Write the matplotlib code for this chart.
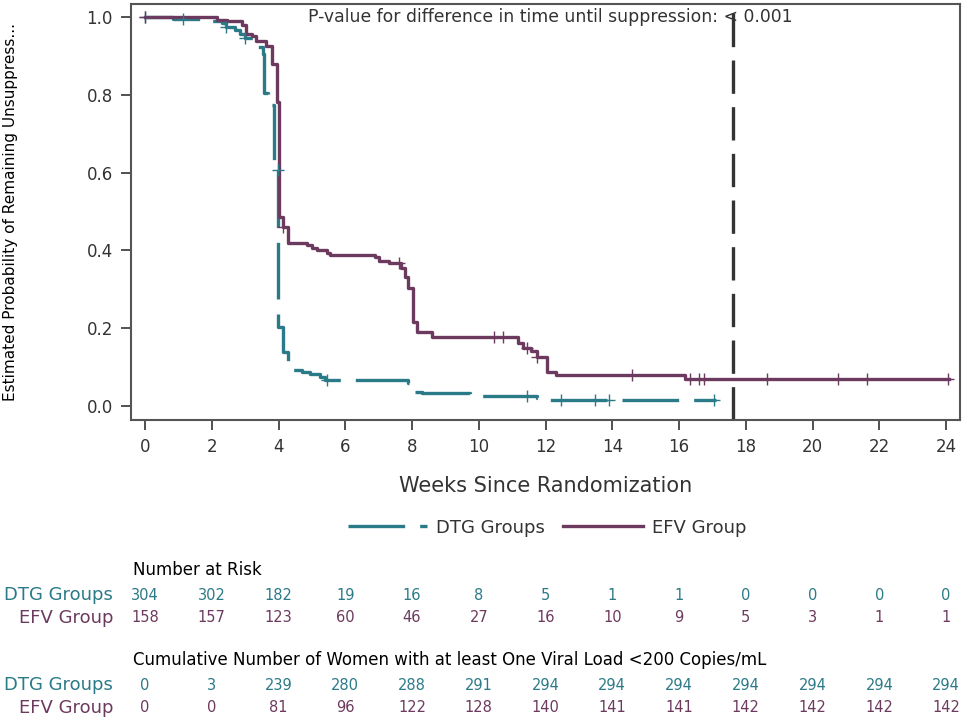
import numpy as np
import matplotlib
matplotlib.use('Agg')
import matplotlib.pyplot as plt
from matplotlib.transforms import blended_transform_factory

# Kaplan-Meier steps (weeks, probability)
dtg_t = [0, 0.85, 2.0, 2.3, 2.43, 2.7, 2.85, 3.0, 3.3, 3.35, 3.54, 3.57, 3.69,
         3.87, 3.99, 4.13, 4.28, 4.7, 4.94, 5.24, 5.4, 7.88, 8.03, 8.3, 9.74,
         11.75, 11.93, 12.07, 17.1]
dtg_s = [1.0, 0.995, 0.99, 0.985, 0.974, 0.967, 0.956, 0.946, 0.936, 0.923,
         0.905, 0.805, 0.774, 0.607, 0.203, 0.139, 0.093, 0.087, 0.083, 0.075,
         0.067, 0.059, 0.036, 0.033, 0.026, 0.02, 0.017, 0.015, 0.015]
dtg_cens = [0, 1.14, 2.43, 3.0, 3.98, 5.45, 11.45, 12.46, 13.48, 13.9, 17.05]

efv_t = [0, 2.16, 2.46, 2.9, 3.03, 3.2, 3.33, 3.63, 3.8, 3.96, 4.02, 4.13,
         4.28, 4.85, 5.0, 5.15, 5.45, 5.55, 6.89, 7.0, 7.3, 7.67, 7.8, 7.88,
         8.03, 8.15, 8.6, 11.18, 11.33, 11.57, 11.75, 12.04, 12.3, 16.18, 24.1]
efv_s = [1.0, 0.992, 0.988, 0.978, 0.956, 0.95, 0.938, 0.924, 0.879, 0.78,
         0.486, 0.46, 0.42, 0.414, 0.406, 0.40, 0.394, 0.388, 0.383, 0.373,
         0.368, 0.355, 0.332, 0.303, 0.216, 0.19, 0.177, 0.162, 0.149, 0.141,
         0.126, 0.087, 0.08, 0.069, 0.069]
efv_cens = [0, 4.13, 7.6, 10.46, 10.73, 11.45, 11.75, 14.6, 16.33, 16.6, 16.75,
            18.63, 20.76, 21.63, 24.06]

pvalue_x = 17.62

table_weeks = list(range(0, 25, 2))
risk_dtg = [304, 302, 182, 19, 16, 8, 5, 1, 1, 0, 0, 0, 0]
risk_efv = [158, 157, 123, 60, 46, 27, 16, 10, 9, 5, 3, 1, 1]
cum_dtg = [0, 3, 239, 280, 288, 291, 294, 294, 294, 294, 294, 294, 294]
cum_efv = [0, 0, 81, 96, 122, 128, 140, 141, 141, 142, 142, 142, 142]

TEAL = '#2b7a87'
PURPLE = '#6c3a5e'
DARK = '#333333'


def step_value(t, s, x):
    i = np.searchsorted(t, x, side='right') - 1
    return np.asarray(s)[np.clip(i, 0, len(s) - 1)]


fig = plt.figure(figsize=(9.63, 7.22), dpi=100)
ax = fig.add_axes([0.136, 0.418, 0.861, 0.5765])

ax.step(dtg_t, dtg_s, where='post', color=TEAL, lw=2.4,
        dashes=(17, 4.5), label='DTG Groups')
ax.step(efv_t, efv_s, where='post', color=PURPLE, lw=2.4, label='EFV Group')
ax.plot(dtg_cens, step_value(dtg_t, dtg_s, dtg_cens), ls='none', marker='+',
        ms=8, mew=1.0, color=TEAL)
ax.plot(efv_cens, step_value(efv_t, efv_s, efv_cens), ls='none', marker='+',
        ms=8, mew=1.0, color=PURPLE)

ax.axvline(pvalue_x, color=DARK, lw=2.4, dashes=(10, 4))
ax.text(4.87, 1.0, 'P-value for difference in time until suppression: < 0.001',
        fontsize=12.4, color=DARK, va='center', ha='left')

ax.set_xlim(-0.42, 24.42)
ax.set_ylim(-0.036, 1.033)
ax.set_xticks(table_weeks)
ax.set_yticks(np.arange(0, 1.01, 0.2))
ax.set_yticklabels([f'{v:.1f}' for v in np.arange(0, 1.01, 0.2)])
ax.tick_params(direction='out', length=7, width=1.2, labelsize=12,
               colors=DARK, pad=6)
for sp in ax.spines.values():
    sp.set_color('#555555')
    sp.set_linewidth(1.5)
ax.set_xlabel('Weeks Since Randomization', fontsize=15, color=DARK, labelpad=14)
ax.set_ylabel('Estimated Probability of Remaining Unsuppress...', fontsize=11,
              color='black')
ax.yaxis.set_label_coords(-0.136, 0.5)

leg = fig.legend(loc='center', bbox_to_anchor=(0.568, 0.269), ncol=2,
                 frameon=False, fontsize=13, handlelength=4.4, columnspacing=1.0,
                 handletextpad=0.5)
for txt in leg.get_texts():
    txt.set_color(DARK)

# at-risk tables under the plot
tr = blended_transform_factory(ax.transData, fig.transFigure)
lab_x = 113 / 963


def fig_y(py):
    return 1 - py / 722


def table_block(title, title_py, dtg_vals, efv_vals, dtg_py, efv_py):
    fig.text(133 / 963, fig_y(title_py), title, fontsize=12, color='black',
             va='center', ha='left')
    fig.text(lab_x, fig_y(dtg_py), 'DTG Groups', fontsize=13, color=TEAL,
             va='center', ha='right')
    fig.text(lab_x, fig_y(efv_py), 'EFV Group', fontsize=13, color=PURPLE,
             va='center', ha='right')
    for w, a, b in zip(table_weeks, dtg_vals, efv_vals):
        fig.text(w, fig_y(dtg_py), str(a), transform=tr, fontsize=10.5,
                 color=TEAL, ha='center', va='center')
        fig.text(w, fig_y(efv_py), str(b), transform=tr, fontsize=10.5,
                 color=PURPLE, ha='center', va='center')


table_block('Number at Risk', 570, risk_dtg, risk_efv, 595, 618)
table_block('Cumulative Number of Women with at least One Viral Load <200 Copies/mL',
            660, cum_dtg, cum_efv, 685, 708)

fig.savefig('out.png', dpi=100)
